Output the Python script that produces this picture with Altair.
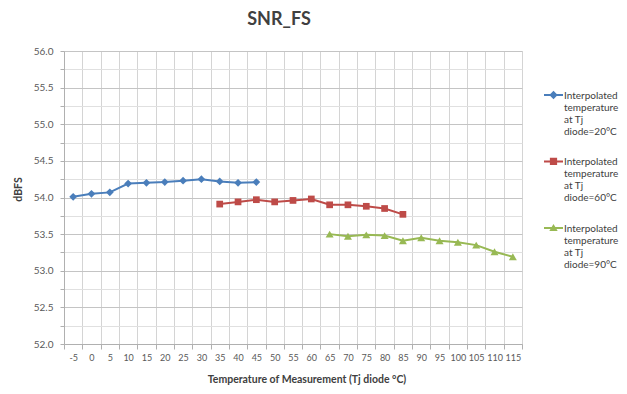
import altair as alt
import pandas as pd

# ---- data ----
temps = [-5, 0, 5, 10, 15, 20, 25, 30, 35, 40, 45, 50, 55, 60, 65, 70, 75, 80, 85, 90, 95, 100, 105, 110, 115]

series_names = [
    "Interpolated|temperature|at Tj|diode=20°C",
    "Interpolated|temperature|at Tj|diode=60°C",
    "Interpolated|temperature|at Tj|diode=90°C",
]

blue_x = [-5, 0, 5, 10, 15, 20, 25, 30, 35, 40, 45]
blue_y = [54.01, 54.05, 54.07, 54.19, 54.20, 54.21, 54.23, 54.25, 54.22, 54.20, 54.21]

red_x = [35, 40, 45, 50, 55, 60, 65, 70, 75, 80, 85]
red_y = [53.91, 53.94, 53.97, 53.94, 53.96, 53.98, 53.90, 53.90, 53.88, 53.85, 53.77]

green_x = [65, 70, 75, 80, 85, 90, 95, 100, 105, 110, 115]
green_y = [53.50, 53.47, 53.49, 53.48, 53.41, 53.45, 53.41, 53.39, 53.35, 53.26, 53.19]

y_ticks = [52.0, 52.25, 52.5, 52.75, 53.0, 53.25, 53.5, 53.75, 54.0,
           54.25, 54.5, 54.75, 55.0, 55.25, 55.5, 55.75, 56.0]

colors = ["#4A7EBB", "#BE4B48", "#98B954"]
marker_shapes = ["diamond", "square", "triangle-up"]
marker_sizes = [60, 45, 64]

# legend symbols: line segment + marker (unit = sqrt(size)/2 px)
legend_paths = [
    "M-1,0.37H1V0.57H-1Z M0,0.03L0.44,0.47L0,0.91L-0.44,0.47Z",
    "M-1,0.37H1V0.57H-1Z M-0.38,0.09H0.38V0.85H-0.38Z",
    "M-1,0.37H1V0.57H-1Z M0,0.05L0.44,0.8H-0.44Z",
]

rows = []
for name, xs, ys in zip(series_names, [blue_x, red_x, green_x], [blue_y, red_y, green_y]):
    for xv, yv in zip(xs, ys):
        rows.append({"temp": xv, "snr": yv, "series": name})
df = pd.DataFrame(rows)

FONT = "Lato"

x_enc = alt.X(
    "temp:O",
    scale=alt.Scale(type="band", domain=temps, paddingInner=0, paddingOuter=0),
    axis=alt.Axis(
        title="Temperature of Measurement (Tj diode °C)",
        titleFont=FONT, titleFontSize=10.5, titleFontWeight="bold", titleColor="#404040",
        titleX=242.5, titleY=35, titleBaseline="middle", titleAlign="center",
        labelFont=FONT, labelFontSize=9, labelColor="#595959", labelAngle=0,
        labelOverlap=False, labelPadding=4,
        tickBand="extent", grid=True, gridColor="#d4d4d4", gridWidth=1,
        tickColor="#b0b0b0", tickSize=5, domainColor="#b0b0b0",
    ),
)

y_enc = alt.Y(
    "snr:Q",
    scale=alt.Scale(domain=[52, 56], nice=False, zero=False),
    axis=alt.Axis(
        title="dBFS",
        titleFont=FONT, titleFontSize=10.5, titleFontWeight="bold", titleColor="#404040",
        titleX=-46, titleY=138, titleAngle=270, titleAlign="center", titleBaseline="middle",
        values=y_ticks,
        labelExpr="datum.value % 0.5 === 0 ? format(datum.value, '.1f') : ''",
        labelFont=FONT, labelFontSize=10, labelColor="#595959", labelPadding=7,
        grid=True,
        gridColor={"condition": {"test": "datum.value % 0.5 === 0", "value": "#c4c4c4"}, "value": "#e0e0e0"},
        tickColor="#b0b0b0", tickSize=4, domainColor="#b0b0b0",
    ),
)

base = alt.Chart(df)

series_layers = []
for name, col, shp, sz in zip(series_names, colors, marker_shapes, marker_sizes):
    series_layers.append(
        base.transform_filter(alt.datum.series == name)
        .mark_line(
            color=col, strokeWidth=2,
            point=alt.OverlayMarkDef(shape=shp, size=sz, filled=True, opacity=1, color=col),
        )
        .encode(x=x_enc, y=y_enc)
    )

legend_def = alt.Legend(
    title=None, orient="none", legendX=480, legendY=30, padding=0,
    symbolSize=361, symbolStrokeWidth=0,
    labelExpr="split(datum.label, '|')",
    labelFont=FONT, labelFontSize=10, labelColor="#404040",
    labelBaseline="top", labelOffset=1, labelLimit=200,
    rowPadding=10.5,
)

legend_layer = (
    base.transform_filter("false")
    .mark_point(filled=True, opacity=1)
    .encode(
        x=x_enc, y=y_enc,
        color=alt.Color("series:N", scale=alt.Scale(domain=series_names, range=colors), legend=legend_def),
        shape=alt.Shape("series:N", scale=alt.Scale(domain=series_names, range=legend_paths), legend=legend_def),
    )
)

chart = alt.layer(*series_layers, legend_layer).properties(
    width=458, height=293,
    padding={"left": 56, "top": 43, "right": 97, "bottom": 42},
    autosize=alt.AutoSizeParams(type="none"),
    title=alt.TitleParams(
        "SNR_FS", font=FONT, fontSize=18, fontWeight="bold", color="#404040",
        anchor="middle", frame="group", baseline="alphabetic", offset=3, dx=-14,
    ),
).configure_view(stroke=None).configure(background="white")

chart.save("out.html", embed_options={"renderer": "svg", "actions": False})
